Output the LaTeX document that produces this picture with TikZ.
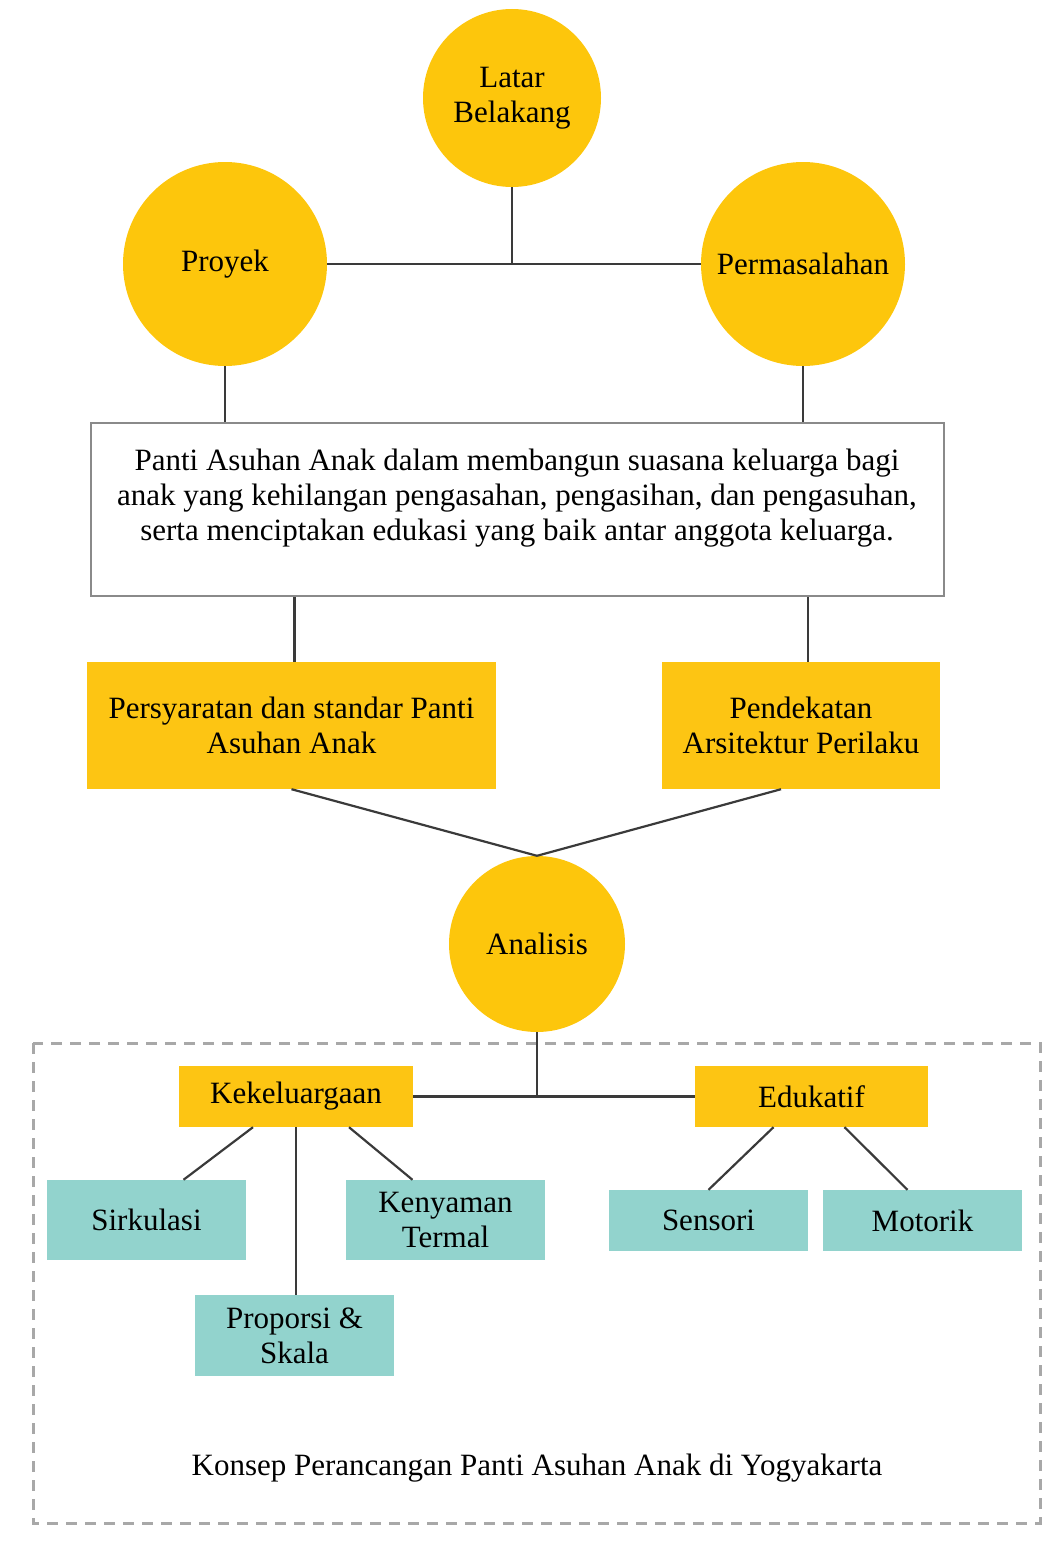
\documentclass[tikz,border=0pt]{standalone}
\usepackage{fontspec}
\setmainfont{Liberation Serif}
\usepackage{tikz}
\usetikzlibrary{positioning}
\definecolor{bulatkuning}{HTML}{FDC60C}
\definecolor{kotakkuning}{HTML}{FDC513}
\definecolor{kotaktosca}{HTML}{92D3CD}
\definecolor{garisabu}{HTML}{8A8A8A}
\definecolor{garisgelap}{HTML}{3A3A3A}
\definecolor{putusabu}{HTML}{A8A8A8}

\begin{document}
\begin{tikzpicture}[
  x=1pt, y=-1pt,
  font=\fontsize{31}{35}\selectfont,
  bulat/.style={circle, fill=bulatkuning, inner sep=0pt, align=center},
  kuning/.style={rectangle, fill=kotakkuning, inner sep=0pt, align=center},
  tosca/.style={rectangle, fill=kotaktosca, inner sep=0pt, align=center, minimum width=199pt},
  ket/.style={rectangle, draw=garisabu, line width=1.6pt, fill=white, inner sep=0pt},
  ln/.style={draw=garisgelap, line width=2.2pt},
  batas/.style={draw=putusabu, line width=3pt, dash pattern=on 11pt off 8pt}
]
\useasboundingbox (0,0) rectangle (1057,1544);

\node[bulat, minimum size=178pt] (latar) at (512,98)  {Latar\\Belakang};
\node[bulat, minimum size=204pt] (proyek) at (225,264) {Proyek};
\node[bulat, minimum size=204pt] (masalah) at (803,264) {Permasalahan};

\node[ket, minimum width=853pt, minimum height=173pt] (tujuan) at (517.5,509.5) {};
\node[align=center, inner sep=0pt] (tujuanteks) at (517,498)
  {Panti Asuhan Anak dalam membangun suasana keluarga bagi\\anak yang kehilangan pengasahan, pengasihan, dan pengasuhan,\\serta menciptakan edukasi yang baik antar anggota keluarga.};

\node[kuning, minimum width=409pt, minimum height=127pt] (syarat) at (291.5,725.5) {Persyaratan dan standar Panti\\Asuhan Anak};
\node[kuning, minimum width=278pt, minimum height=127pt] (pendekatan) at (801,725.5) {Pendekatan\\Arsitektur Perilaku};

\node[bulat, minimum size=176pt] (analisis) at (537,944) {Analisis};

\draw[batas] (33,1043) rectangle (1040,1523);

\node[kuning, minimum width=234pt, minimum height=61pt] (keluarga) at (296,1096.5) {Kekeluargaan};
\node[kuning, minimum width=233pt, minimum height=61pt] (edukatif) at (811.5,1096.5) {Edukatif};

\node[tosca, minimum height=80pt] (sirkulasi) at (146.5,1220) {Sirkulasi};
\node[tosca, minimum height=80pt] (termal) at (445.5,1220) {Kenyaman\\Termal};
\node[tosca, minimum height=81pt] (proporsi) at (294.5,1335.5) {Proporsi \&\\Skala};
\node[tosca, minimum height=61pt] (sensori) at (708.5,1220.5) {Sensori};
\node[tosca, minimum height=61pt] (motorik) at (922.5,1220.5) {Motorik};

\node (judul) at (537,1468) {Konsep Perancangan Panti Asuhan Anak di Yogyakarta};

\coordinate (simpul1) at (latar.south |- proyek.east);
\coordinate (simpul2) at (analisis.south |- keluarga.east);

\draw[ln] (proyek.east) -- (masalah.west);
\draw[ln] (latar.south) -- (simpul1);
\draw[ln] (proyek.south) -- (proyek.south |- tujuan.north);
\draw[ln] (masalah.south) -- (masalah.south |- tujuan.north);

\draw[ln] ([xshift=3pt]syarat.north) -- ([xshift=3pt]syarat.north |- tujuan.south);
\draw[ln] ([xshift=7pt]pendekatan.north) -- ([xshift=7pt]pendekatan.north |- tujuan.south);

\draw[ln] (syarat.south) -- (analisis.north);
\draw[ln] ([xshift=-20pt]pendekatan.south) -- (analisis.north);

\draw[ln] (analisis.south) -- (simpul2);
\draw[ln] (keluarga.east) -- (edukatif.west);

\draw[ln] ([xshift=-43pt]keluarga.south) -- ([xshift=37pt]sirkulasi.north);
\draw[ln] (keluarga.south) -- (keluarga.south |- proporsi.north);
\draw[ln] ([xshift=53pt]keluarga.south) -- ([xshift=-33pt]termal.north);

\draw[ln] ([xshift=-38pt]edukatif.south) -- (sensori.north);
\draw[ln] ([xshift=33pt]edukatif.south) -- ([xshift=-15pt]motorik.north);

\end{tikzpicture}
\end{document}
